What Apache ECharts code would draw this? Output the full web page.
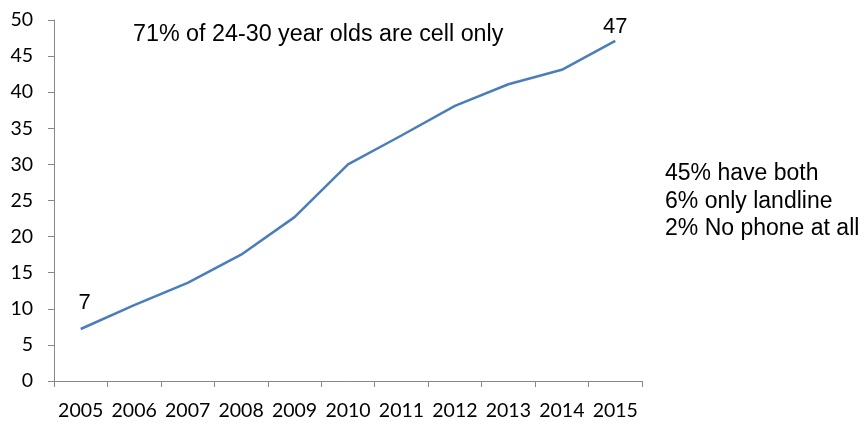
<!DOCTYPE html>
<html>
<head>
<meta charset="utf-8">
<script src="https://cdn.jsdelivr.net/npm/echarts@6/dist/echarts.min.js"></script>
<style>
  html, body { margin: 0; padding: 0; background: #fff; }
  #chart { width: 864px; height: 425px; }
</style>
</head>
<body>
<div id="chart"></div>
<script>
// years and share of cell-only households
var years = ['2005', '2006', '2007', '2008', '2009', '2010', '2011', '2012', '2013', '2014', '2015'];
var cellOnly = [7.2, 10.5, 13.6, 17.5, 22.7, 30, 34, 38.1, 41.1, 43.1, 47.1];
var pointLabels = ['7', '', '', '', '', '', '', '', '', '', '47'];
var topNote = '71% of 24-30 year olds are cell only';
var sideNotes = ['45% have both', '6% only landline', '2% No phone at all'];

var myChart = echarts.init(document.getElementById('chart'));

// first label sits a bit higher and to the right, like the original
var seriesData = cellOnly.map(function (v, i) {
    if (i === 0) {
        return { value: v, label: { offset: [4, -12] } };
    }
    return v;
});

var option = {
    animation: false,
    grid: { left: 54, right: 222, top: 20, bottom: 44 },
    xAxis: {
        type: 'category',
        data: years,
        boundaryGap: true,
        axisLine: { lineStyle: { color: '#888', width: 1 } },
        axisTick: { show: true, interval: 0, length: 6, alignWithLabel: false, lineStyle: { color: '#888' } },
        axisLabel: { interval: 0, color: '#000', fontSize: 19.5, fontFamily: 'Lato', margin: 20 }
    },
    yAxis: {
        type: 'value',
        min: 0,
        max: 50,
        interval: 5,
        splitLine: { show: false },
        axisLine: { show: true, lineStyle: { color: '#888', width: 1 } },
        axisTick: { show: true, length: 6, lineStyle: { color: '#888' } },
        axisLabel: { color: '#000', fontSize: 19.5, fontFamily: 'Lato', margin: 21 }
    },
    series: [{
        type: 'line',
        data: seriesData,
        symbol: 'circle',
        symbolSize: 0.1,
        showSymbol: true,
        itemStyle: { color: '#4a7ebb' },
        lineStyle: { color: '#4a7ebb', width: 2.5 },
        label: {
            show: true,
            position: 'top',
            distance: 3,
            color: '#000',
            fontSize: 22,
            fontFamily: 'Liberation Sans',
            formatter: function (p) { return pointLabels[p.dataIndex]; }
        }
    }],
    graphic: [
        {
            type: 'text', left: 133, top: 23,
            style: { text: topNote, fill: '#000', font: '23.3px "Liberation Sans"' }
        },
        {
            type: 'text', left: 665, top: 160,
            style: { text: sideNotes.join('\n'), fill: '#000', font: '23px "Liberation Sans"', lineHeight: 27.5 }
        }
    ]
};

myChart.setOption(option);
</script>
</body>
</html>
